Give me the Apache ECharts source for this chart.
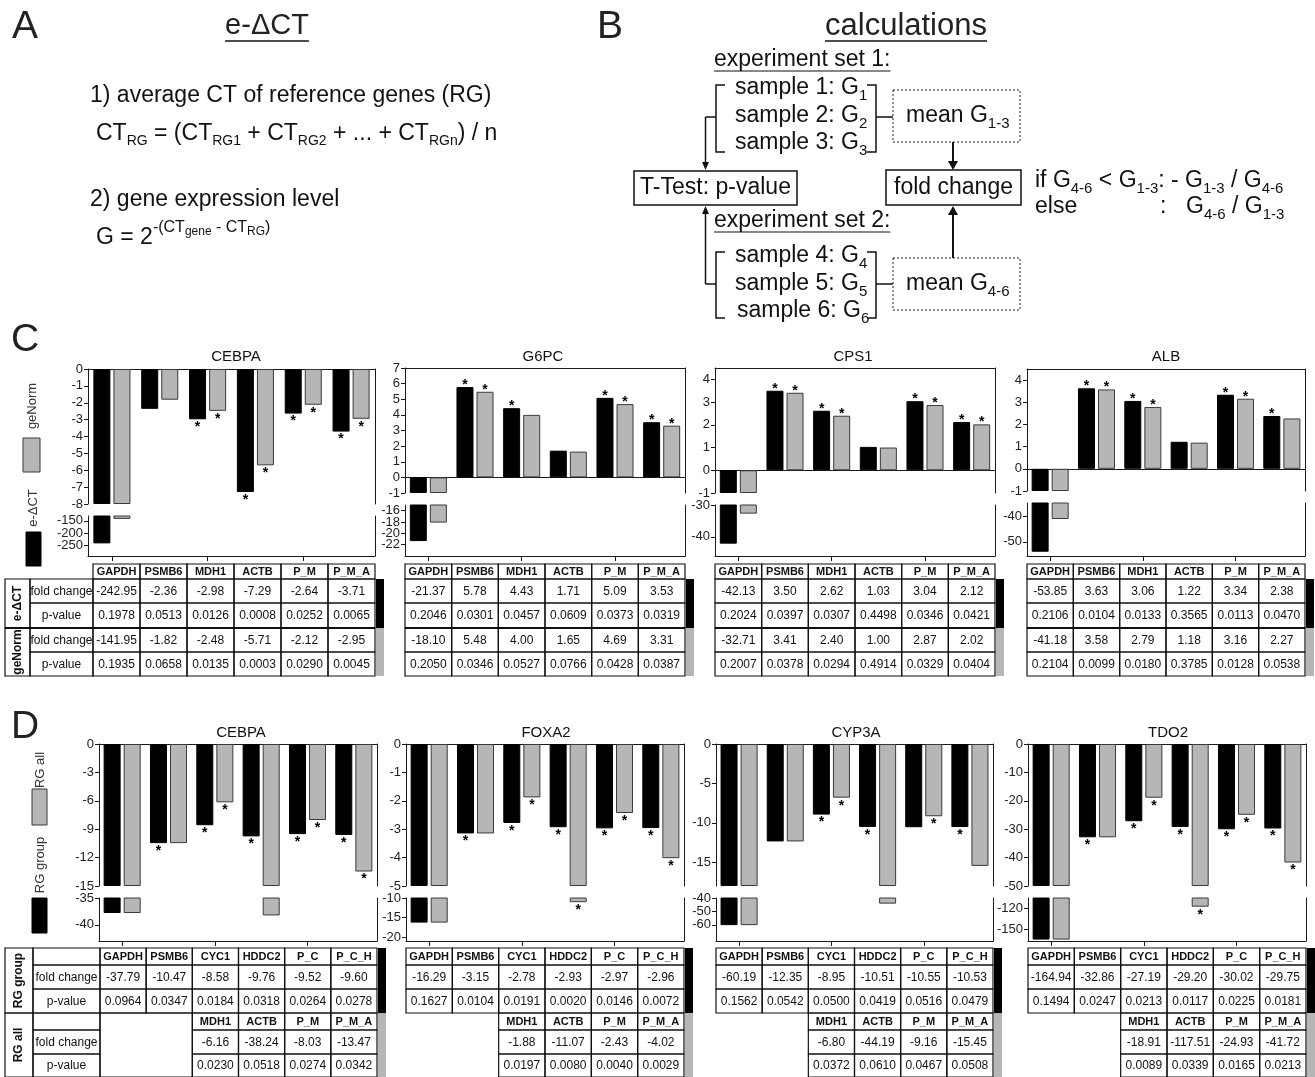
<!DOCTYPE html>
<html><head><meta charset="utf-8">
<script src="https://cdn.jsdelivr.net/npm/echarts@6/dist/echarts.min.js"></script>
<style>html,body{margin:0;padding:0;background:#fff}#c{width:1315px;height:1077px}</style>
</head><body><div id="c"></div>
<script>
const FONT = '"Liberation Sans", Arial, Helvetica, sans-serif';

// ---------------- Panel C data ----------------
const cGenes = ['CEBPA', 'G6PC', 'CPS1', 'ALB'];
const cCats = ['GAPDH', 'PSMB6', 'MDH1', 'ACTB', 'P_M', 'P_M_A'];
const cFoldDct = [
  [-242.95, -2.36, -2.98, -7.29, -2.64, -3.71],
  [-21.37, 5.78, 4.43, 1.71, 5.09, 3.53],
  [-42.13, 3.50, 2.62, 1.03, 3.04, 2.12],
  [-53.85, 3.63, 3.06, 1.22, 3.34, 2.38]];
const cPDct = [
  [0.1978, 0.0513, 0.0126, 0.0008, 0.0252, 0.0065],
  [0.2046, 0.0301, 0.0457, 0.0609, 0.0373, 0.0319],
  [0.2024, 0.0397, 0.0307, 0.4498, 0.0346, 0.0421],
  [0.2106, 0.0104, 0.0133, 0.3565, 0.0113, 0.0470]];
const cFoldGeNorm = [
  [-141.95, -1.82, -2.48, -5.71, -2.12, -2.95],
  [-18.10, 5.48, 4.00, 1.65, 4.69, 3.31],
  [-32.71, 3.41, 2.40, 1.00, 2.87, 2.02],
  [-41.18, 3.58, 2.79, 1.18, 3.16, 2.27]];
const cPGeNorm = [
  [0.1935, 0.0658, 0.0135, 0.0003, 0.0290, 0.0045],
  [0.2050, 0.0346, 0.0527, 0.0766, 0.0428, 0.0387],
  [0.2007, 0.0378, 0.0294, 0.4914, 0.0329, 0.0404],
  [0.2104, 0.0099, 0.0180, 0.3785, 0.0128, 0.0538]];
const cUpperMin = [-8, -1, -1, -1];
const cUpperMax = [0, 7, 4.5, 4.5];
const cUpperTicks = [[0,-1,-2,-3,-4,-5,-6,-7,-8],[7,6,5,4,3,2,1,0,-1],[4,3,2,1,0,-1],[4,3,2,1,0,-1]];
const cLowerMin = [-295, -24, -46, -55.5];
const cLowerMax = [-130, -15, -30, -35];
const cLowerTicks = [[-150,-200,-250],[-16,-18,-20,-22],[-30,-40],[-40,-50]];

// ---------------- Panel D data ----------------
const dGenes = ['CEBPA', 'FOXA2', 'CYP3A', 'TDO2'];
const dCatsGroup = ['GAPDH', 'PSMB6', 'CYC1', 'HDDC2', 'P_C', 'P_C_H'];
const dCatsAll = ['MDH1', 'ACTB', 'P_M', 'P_M_A'];
const dFoldGroup = [
  [-37.79, -10.47, -8.58, -9.76, -9.52, -9.60],
  [-16.29, -3.15, -2.78, -2.93, -2.97, -2.96],
  [-60.19, -12.35, -8.95, -10.51, -10.55, -10.53],
  [-164.94, -32.86, -27.19, -29.20, -30.02, -29.75]];
const dPGroup = [
  [0.0964, 0.0347, 0.0184, 0.0318, 0.0264, 0.0278],
  [0.1627, 0.0104, 0.0191, 0.0020, 0.0146, 0.0072],
  [0.1562, 0.0542, 0.0500, 0.0419, 0.0516, 0.0479],
  [0.1494, 0.0247, 0.0213, 0.0117, 0.0225, 0.0181]];
const dFoldAll = [
  [-6.16, -38.24, -8.03, -13.47],
  [-1.88, -11.07, -2.43, -4.02],
  [-6.80, -44.19, -9.16, -15.45],
  [-18.91, -117.51, -24.93, -41.72]];
const dPAll = [
  [0.0230, 0.0518, 0.0274, 0.0342],
  [0.0197, 0.0080, 0.0040, 0.0029],
  [0.0372, 0.0610, 0.0467, 0.0508],
  [0.0089, 0.0339, 0.0165, 0.0213]];
const dUpperMin = [-15, -5, -18, -50];
const dUpperMax = [0, 0, 0, 0];
const dUpperTicks = [[0,-3,-6,-9,-12,-15],[0,-1,-2,-3,-4,-5],[0,-5,-10,-15],[0,-10,-20,-30,-40,-50]];
const dLowerMin = [-43, -21, -72, -167];
const dLowerMax = [-35, -10, -40, -105];
const dLowerTicks = [[-35,-40],[-10,-15,-20],[-40,-50,-60],[-120,-150]];

// ---------------- layout ----------------
const cX = [[88,375],[405,685],[715,995],[1027,1305]];
const cUpperY = [[369,504],[368,493],[368,493],[369,491]];
const cLowerY = [[516,556],[505,556],[505,556],[503,556]];
const cTitleX = [236, 543, 853, 1166];
const dX = [[99,377],[406,684],[716,993],[1028,1306]];
const dUpperY = [744, 886];
const dLowerY = [898, 941];
const dTitleX = [241, 546, 856, 1168];

const AX = '#1a1a1a';
const BLACK = '#000000', GREY = '#b6b6b6', GREY_B = '#3a3a3a';

// ---------------- helpers ----------------
const G = [];
const mctx = document.createElement('canvas').getContext('2d');
function tw(t, s, w) { mctx.font = (w || 'normal') + ' ' + s + 'px ' + FONT; return mctx.measureText(t).width; }
function T(x, y, text, o) {
  o = o || {};
  G.push({type: 'text', x: x, y: y, rotation: o.rot || 0, silent: true, z: 20,
    style: {text: text, fill: o.color || '#111', font: (o.weight || 'normal') + ' ' + (o.size || 12) + 'px ' + FONT,
      textAlign: o.align || 'center', textVerticalAlign: o.va || 'middle',
      align: o.align || 'center', verticalAlign: o.va || 'middle'}});
}
function L(x1, y1, x2, y2, o) {
  o = o || {};
  G.push({type: 'line', silent: true, z: 20, shape: {x1: x1, y1: y1, x2: x2, y2: y2},
    style: {stroke: o.color || '#111', lineWidth: o.w || 1, lineDash: o.dash || null}});
}
function R(x, y, w, h, o) {
  G.push({type: 'rect', silent: true, z: o.z || 20, shape: {x: x, y: y, width: w, height: h},
    style: {fill: o.fill || 'none', stroke: o.stroke || null, lineWidth: o.w || 1, lineDash: o.dash || null}});
}
function PL(pts, o) {
  o = o || {};
  G.push({type: 'polyline', silent: true, z: 20, shape: {points: pts}, style: {stroke: '#111', lineWidth: o.w || 1.5, fill: null}});
}
function PG(pts) {
  G.push({type: 'polygon', silent: true, z: 20, shape: {points: pts}, style: {fill: '#111'}});
}
function rich(x, y, parts) {
  let cx = x;
  parts.forEach(function (p) {
    T(cx, y + (p[2] || 0), p[0], {size: p[1], align: 'left', weight: p[3]});
    cx += tw(p[0], p[1], p[3]);
  });
  return cx;
}

// ---------------- Panel A ----------------
T(12, 27, 'A', {size: 39, align: 'left', color: '#222'});
T(267, 26, 'e-ΔCT', {size: 29, color: '#222'});
(function(){ const w = tw('e-ΔCT', 29); L(267 - w/2, 41, 267 + w/2, 41, {w: 1.5}); })();
rich(90, 96, [['1) average CT of reference genes (RG)', 23]]);
rich(96, 134, [['CT', 23], ['RG', 14, 7], [' = (CT', 23], ['RG1', 14, 7], [' + CT', 23], ['RG2', 14, 7], [' + ... + CT', 23], ['RGn', 14, 7], [') / n', 23]]);
rich(90, 200, [['2) gene expression level', 23]]);
rich(96, 238, [['G = 2', 23], ['-(CT', 16, -10], ['gene', 12, -6], [' - CT', 16, -10], ['RG', 12, -6], [')', 16, -10]]);

// ---------------- Panel B ----------------
T(597, 27, 'B', {size: 39, align: 'left', color: '#222'});
T(906, 26, 'calculations', {size: 31, color: '#222'});
(function(){ const w = tw('calculations', 31); L(906 - w/2, 41, 906 + w/2, 41, {w: 1.5}); })();
(function(){
  const fs = 23, sub = 15;
  let e = rich(714, 60, [['experiment set 1:', fs]]); L(714, 71, e, 71, {w: 1.2});
  rich(735, 88, [['sample 1: G', fs], ['1', sub, 8]]);
  rich(735, 116, [['sample 2: G', fs], ['2', sub, 8]]);
  rich(735, 143, [['sample 3: G', fs], ['3', sub, 8]]);
  e = rich(714, 221, [['experiment set 2:', fs]]); L(714, 232, e, 232, {w: 1.2});
  rich(735, 256, [['sample 4: G', fs], ['4', sub, 8]]);
  rich(735, 284, [['sample 5: G', fs], ['5', sub, 8]]);
  rich(737, 311, [['sample 6: G', fs], ['6', sub, 8]]);
  // brackets
  PL([[725,85],[716,85],[716,152],[725,152]]);
  PL([[867,85],[876,85],[876,152],[867,152]]);
  PL([[725,252],[716,252],[716,318],[725,318]]);
  PL([[867,252],[876,252],[876,318],[867,318]]);
  L(705.5, 117, 716, 117, {w: 1.5}); L(705.5, 117, 705.5, 163, {w: 1.5}); PG([[702,162],[709,162],[705.5,170]]);
  L(705.5, 284, 716, 284, {w: 1.5}); L(705.5, 284, 705.5, 213, {w: 1.5}); PG([[702,214],[709,214],[705.5,206]]);
  L(876, 117, 893, 117, {w: 1.5}); L(876, 284, 893, 284, {w: 1.5});
  R(893, 90, 127, 52, {stroke: '#222', w: 1, dash: [2, 2]});
  R(893, 258, 127, 52, {stroke: '#222', w: 1, dash: [2, 2]});
  rich(906, 116, [['mean G', fs], ['1-3', sub, 8]]);
  rich(906, 284, [['mean G', fs], ['4-6', sub, 8]]);
  L(953, 142, 953, 162, {w: 2}); PG([[948,161],[958,161],[953,170]]);
  L(953, 258, 953, 214, {w: 2}); PG([[948,215],[958,215],[953,206]]);
  R(634, 171, 163, 34, {stroke: '#111', w: 1.5});
  R(886, 170, 135, 35, {stroke: '#111', w: 1.5});
  T(715.5, 188, 'T-Test: p-value', {size: fs});
  T(953.5, 188, 'fold change', {size: fs});
  rich(1035, 181, [['if G', fs], ['4-6', sub, 8], [' < G', fs], ['1-3', sub, 8], [': - G', fs], ['1-3', sub, 8], [' / G', fs], ['4-6', sub, 8]]);
  rich(1035, 207, [['else', fs]]);
  rich(1160, 207, [[':', fs]]);
  rich(1186, 207, [['G', fs], ['4-6', sub, 8], [' / G', fs], ['1-3', sub, 8]]);
})();

// ---------------- Panel letters C, D and legends ----------------
T(11, 340, 'C', {size: 39, align: 'left', color: '#222'});
T(11, 727, 'D', {size: 39, align: 'left', color: '#222'});
T(32, 406, 'geNorm', {size: 13, rot: Math.PI / 2, color: '#333'});
R(23, 438, 17, 34, {fill: GREY, stroke: GREY_B, w: 1});
T(33, 508, 'e-ΔCT', {size: 13, rot: Math.PI / 2, color: '#333'});
R(26, 532, 15, 34, {fill: BLACK, stroke: BLACK, w: 1});
T(40, 770, 'RG all', {size: 13, rot: Math.PI / 2, color: '#333'});
R(32, 789, 15, 36, {fill: GREY, stroke: GREY_B, w: 1});
T(40, 865, 'RG group', {size: 13, rot: Math.PI / 2, color: '#333'});
R(32, 898, 15, 35, {fill: BLACK, stroke: BLACK, w: 1});

// ---------------- charts ----------------
const grids = [], xAxes = [], yAxes = [], series = [];
// a left value axis; labels listed in 'ticks' (line drawn only when withLine)
function leftAxis(g, min, max, ticks, withLine) {
  return {type: 'value', gridIndex: g, position: 'left', offset: 0, min: min, max: max,
    axisLine: {show: !!withLine, onZero: false, lineStyle: {color: AX, width: 1}},
    axisTick: {show: true, length: 4, customValues: ticks, lineStyle: {color: AX}},
    axisLabel: {show: true, customValues: ticks, fontSize: 13, color: '#222', margin: 5, fontFamily: FONT,
      hideOverlap: false, formatter: function (v) { return String(v); }},
    splitLine: {show: false}};
}
function rightAxis(g, min, max) {
  return {type: 'value', gridIndex: g, position: 'right', min: min, max: max,
    axisLine: {show: true, onZero: false, lineStyle: {color: AX, width: 1}},
    axisTick: {show: false}, axisLabel: {show: false}, splitLine: {show: false}};
}
// tick labels split over two overlaid axes so that tightly packed labels are all kept
function addLeftAxes(g, min, max, ticks) {
  const idx = yAxes.length;
  yAxes.push(leftAxis(g, min, max, ticks.filter(function (v, i) { return i % 2 === 0; }), true));
  const odd = ticks.filter(function (v, i) { return i % 2 === 1; });
  if (odd.length) yAxes.push(leftAxis(g, min, max, odd, false));
  yAxes.push(rightAxis(g, min, max));
  return idx;
}
function sig(v, p) {
  const show = p != null && p <= 0.05;
  return {show: show, position: v < 0 ? 'bottom' : 'top', distance: 1, formatter: '*',
    fontSize: 14, fontWeight: 'bold', color: '#000', fontFamily: FONT, offset: v < 0 ? [0, 0] : [0, 6]};
}
function addChart(cats, xr, uY, lY, uMin, uMax, uTicks, lMin, lMax, lTicks, bV, bP, gV, gP) {
  const gU = grids.length;
  grids.push({left: xr[0], top: uY[0], width: xr[1] - xr[0], height: uY[1] - uY[0]});
  const xU = xAxes.length;
  xAxes.push({type: 'category', gridIndex: gU, data: cats, position: 'bottom',
    axisLine: {onZero: true, lineStyle: {color: AX, width: 1}}, axisTick: {show: false}, axisLabel: {show: false}, splitLine: {show: false}});
  xAxes.push({type: 'category', gridIndex: gU, data: cats, position: 'top',
    axisLine: {onZero: false, lineStyle: {color: AX, width: 1}}, axisTick: {show: false}, axisLabel: {show: false}});
  const yU = addLeftAxes(gU, uMin, uMax, uTicks);

  const gL = grids.length;
  grids.push({left: xr[0], top: lY[0], width: xr[1] - xr[0], height: lY[1] - lY[0]});
  const xL = xAxes.length;
  xAxes.push({type: 'category', gridIndex: gL, data: cats, position: 'bottom',
    axisLine: {onZero: false, lineStyle: {color: AX, width: 1}},
    axisTick: {show: true, alignWithLabel: true, length: 5, lineStyle: {color: AX}}, axisLabel: {show: false}});
  const yL = addLeftAxes(gL, lMin, lMax, lTicks);

  function up(vals, ps) {
    return vals.map(function (v, i) {
      if (v < uMin) return {value: uMin, label: {show: false}};
      return {value: v, label: sig(v, ps[i])};
    });
  }
  function lo(vals, ps) {
    return vals.map(function (v, i) {
      if (v >= lMax) return '-';
      return {value: v, label: sig(v, ps[i])};
    });
  }
  const bs = {color: BLACK, borderColor: BLACK, borderWidth: 1};
  const gs = {color: GREY, borderColor: GREY_B, borderWidth: 1};
  const common = {type: 'bar', barWidth: 17, barGap: '18%', silent: true, clip: true, animation: false};
  series.push(Object.assign({}, common, {xAxisIndex: xU, yAxisIndex: yU, itemStyle: bs, data: up(bV, bP)}));
  series.push(Object.assign({}, common, {xAxisIndex: xU, yAxisIndex: yU, itemStyle: gs, data: up(gV, gP)}));
  series.push(Object.assign({}, common, {xAxisIndex: xL, yAxisIndex: yL, itemStyle: bs, data: lo(bV, bP)}));
  series.push(Object.assign({}, common, {xAxisIndex: xL, yAxisIndex: yL, itemStyle: gs, data: lo(gV, gP)}));
}

// panel C charts
for (let k = 0; k < 4; k++) {
  addChart(cCats, cX[k], cUpperY[k], cLowerY[k], cUpperMin[k], cUpperMax[k], cUpperTicks[k],
    cLowerMin[k], cLowerMax[k], cLowerTicks[k], cFoldDct[k], cPDct[k], cFoldGeNorm[k], cPGeNorm[k]);
  T(cTitleX[k], 357, cGenes[k], {size: 15, color: '#111'});
}
// panel D charts
for (let k = 0; k < 4; k++) {
  const greyV = dFoldGroup[k].slice(0, 2).concat(dFoldAll[k]);
  const greyP = [null, null].concat(dPAll[k]);
  addChart(dCatsGroup, dX[k], dUpperY, dLowerY, dUpperMin[k], dUpperMax[k], dUpperTicks[k],
    dLowerMin[k], dLowerMax[k], dLowerTicks[k], dFoldGroup[k], dPGroup[k], greyV, greyP);
  T(dTitleX[k], 733, dGenes[k], {size: 15, color: '#111'});
}

// ---------------- tables ----------------
function edges(a, b, n) { const r = []; for (let i = 0; i <= n; i++) r.push(a + (b - a) * i / n); return r; }
function cell(x1, y1, x2, y2, text, o) {
  R(x1, y1, x2 - x1, y2 - y1, {stroke: '#111', w: 1.2});
  if (text !== undefined && text !== null && text !== '') T((x1 + x2) / 2, (y1 + y2) / 2 + 0.5, text, o || {size: 12});
}
// C tables
for (let k = 0; k < 4; k++) {
  const x0 = k === 0 ? 93 : cX[k][0], x1 = cX[k][1];
  const xs = edges(x0, x1, 6);
  const ys = [564, 579, 603, 628, 652, 676];
  const rows = [cFoldDct[k].map(v => v.toFixed(2)), cPDct[k].map(v => v.toFixed(4)),
                cFoldGeNorm[k].map(v => v.toFixed(2)), cPGeNorm[k].map(v => v.toFixed(4))];
  for (let j = 0; j < 6; j++) cell(xs[j], ys[0], xs[j + 1], ys[1], cCats[j], {size: 11, weight: 'bold'});
  for (let r = 0; r < 4; r++) for (let j = 0; j < 6; j++) cell(xs[j], ys[r + 1], xs[j + 1], ys[r + 2], rows[r][j], {size: 12});
  if (k === 0) {
    const lab = ['fold change', 'p-value', 'fold change', 'p-value'];
    for (let r = 0; r < 4; r++) cell(30, ys[r + 1], 93, ys[r + 2], lab[r], {size: 12});
    cell(5, ys[1], 30, ys[3]); T(17.5, (ys[1] + ys[3]) / 2, 'e-ΔCT', {size: 12, weight: 'bold', rot: Math.PI / 2});
    cell(5, ys[3], 30, ys[5]); T(17.5, (ys[3] + ys[5]) / 2, 'geNorm', {size: 12, weight: 'bold', rot: Math.PI / 2});
  }
  L(k === 0 ? 5 : x0, ys[3], x1, ys[3], {w: 2});
  R(x1 + 1, ys[1], 8, ys[3] - ys[1], {fill: BLACK});
  R(x1 + 1, ys[3], 8, ys[5] - ys[3], {fill: GREY});
}
// D tables
for (let k = 0; k < 4; k++) {
  const x0 = k === 0 ? 100 : dX[k][0], x1 = dX[k][1];
  const xs = edges(x0, x1, 6);
  const ys = [948, 965, 989, 1013, 1030, 1054, 1077];
  for (let j = 0; j < 6; j++) cell(xs[j], ys[0], xs[j + 1], ys[1], dCatsGroup[j], {size: 11, weight: 'bold'});
  for (let j = 0; j < 6; j++) cell(xs[j], ys[1], xs[j + 1], ys[2], dFoldGroup[k][j].toFixed(2), {size: 12});
  for (let j = 0; j < 6; j++) cell(xs[j], ys[2], xs[j + 1], ys[3], dPGroup[k][j].toFixed(4), {size: 12});
  for (let j = 0; j < 4; j++) cell(xs[j + 2], ys[3], xs[j + 3], ys[4], dCatsAll[j], {size: 11, weight: 'bold'});
  for (let j = 0; j < 4; j++) cell(xs[j + 2], ys[4], xs[j + 3], ys[5], dFoldAll[k][j].toFixed(2), {size: 12});
  for (let j = 0; j < 4; j++) cell(xs[j + 2], ys[5], xs[j + 3], ys[6], dPAll[k][j].toFixed(4), {size: 12});
  if (k === 0) {
    cell(xs[0], ys[3], xs[2], ys[6]);
    const lab = ['', 'fold change', 'p-value', '', 'fold change', 'p-value'];
    for (let r = 0; r < 6; r++) cell(33, ys[r], 100, ys[r + 1], lab[r], {size: 12});
    cell(5, ys[0], 33, ys[3]); T(19, (ys[0] + ys[3]) / 2, 'RG group', {size: 12, weight: 'bold', rot: Math.PI / 2});
    cell(5, ys[3], 33, ys[6]); T(19, (ys[3] + ys[6]) / 2, 'RG all', {size: 12, weight: 'bold', rot: Math.PI / 2});
  }
  R(x1 + 1, ys[0], 8, ys[3] - ys[0], {fill: BLACK});
  R(x1 + 1, ys[3], 8, ys[6] - ys[3], {fill: GREY});
}

const chart = echarts.init(document.getElementById('c'), null, {renderer: 'canvas'});
chart.setOption({
  animation: false,
  backgroundColor: '#ffffff',
  textStyle: {fontFamily: FONT},
  grid: grids,
  xAxis: xAxes,
  yAxis: yAxes,
  series: series,
  graphic: {elements: G}
});
</script>
</body></html>
